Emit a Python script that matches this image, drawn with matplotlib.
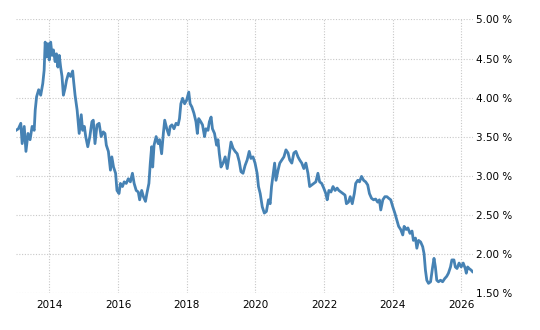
import matplotlib
matplotlib.use('Agg')
import matplotlib.pyplot as plt
from matplotlib.ticker import FuncFormatter

# decimal year / yield (%)
YEARS = [
    2013.03, 2013.10, 2013.17, 2013.21, 2013.27, 2013.32, 2013.38, 2013.44, 2013.50, 2013.56,
    2013.59, 2013.63, 2013.69, 2013.75, 2013.81, 2013.85, 2013.88, 2013.92, 2013.96, 2014.00,
    2014.04, 2014.08, 2014.12, 2014.17, 2014.21, 2014.25, 2014.29, 2014.33, 2014.37, 2014.41,
    2014.46, 2014.50, 2014.56, 2014.62, 2014.68, 2014.71, 2014.75, 2014.81, 2014.87, 2014.93,
    2014.97, 2015.02, 2015.06, 2015.12, 2015.18, 2015.24, 2015.28, 2015.33, 2015.39, 2015.45,
    2015.51, 2015.57, 2015.62, 2015.66, 2015.72, 2015.78, 2015.82, 2015.87, 2015.93, 2015.97,
    2016.03, 2016.07, 2016.13, 2016.18, 2016.24, 2016.30, 2016.36, 2016.42, 2016.47, 2016.53,
    2016.59, 2016.63, 2016.69, 2016.74, 2016.80, 2016.84, 2016.90, 2016.94, 2016.98, 2017.01,
    2017.05, 2017.11, 2017.17, 2017.21, 2017.27, 2017.32, 2017.36, 2017.42, 2017.48, 2017.52,
    2017.57, 2017.63, 2017.69, 2017.75, 2017.79, 2017.83, 2017.88, 2017.94, 2018.00, 2018.06,
    2018.10, 2018.15, 2018.21, 2018.27, 2018.31, 2018.35, 2018.41, 2018.46, 2018.52, 2018.56,
    2018.62, 2018.66, 2018.71, 2018.75, 2018.81, 2018.87, 2018.91, 2018.95, 2019.00, 2019.06,
    2019.12, 2019.18, 2019.24, 2019.29, 2019.35, 2019.41, 2019.47, 2019.53, 2019.58, 2019.64,
    2019.70, 2019.76, 2019.82, 2019.87, 2019.93, 2019.99, 2020.05, 2020.09, 2020.14, 2020.20,
    2020.26, 2020.32, 2020.38, 2020.43, 2020.47, 2020.52, 2020.56, 2020.60, 2020.66, 2020.71,
    2020.77, 2020.83, 2020.89, 2020.95, 2021.00, 2021.06, 2021.12, 2021.18, 2021.24, 2021.29,
    2021.35, 2021.41, 2021.47, 2021.53, 2021.58, 2021.64, 2021.70, 2021.76, 2021.82, 2021.87,
    2021.93, 2021.99, 2022.05, 2022.09, 2022.14, 2022.20, 2022.26, 2022.32, 2022.38, 2022.43,
    2022.49, 2022.55, 2022.61, 2022.65, 2022.71, 2022.76, 2022.82, 2022.88, 2022.92, 2022.98,
    2023.03, 2023.09, 2023.15, 2023.21, 2023.27, 2023.32, 2023.38, 2023.44, 2023.50, 2023.56,
    2023.61, 2023.65, 2023.71, 2023.77, 2023.83, 2023.88, 2023.94, 2024.00, 2024.06, 2024.12,
    2024.17, 2024.23, 2024.29, 2024.33, 2024.39, 2024.44, 2024.50, 2024.56, 2024.60, 2024.66,
    2024.70, 2024.75, 2024.81, 2024.87, 2024.91, 2024.95, 2024.99, 2025.04, 2025.10, 2025.16,
    2025.20, 2025.24, 2025.28, 2025.33, 2025.39, 2025.45, 2025.51, 2025.57, 2025.62, 2025.68,
    2025.72, 2025.78, 2025.82, 2025.87, 2025.93, 2025.99, 2026.05, 2026.11, 2026.14, 2026.18,
    2026.22, 2026.28, 2026.32,
]
YIELDS = [
    3.58, 3.60, 3.67, 3.41, 3.63, 3.31, 3.54, 3.46, 3.63, 3.58,
    3.84, 4.01, 4.10, 4.03, 4.18, 4.35, 4.71, 4.52, 4.69, 4.48,
    4.71, 4.54, 4.61, 4.46, 4.56, 4.39, 4.54, 4.39, 4.27, 4.03,
    4.12, 4.22, 4.31, 4.27, 4.34, 4.20, 4.03, 3.84, 3.54, 3.78,
    3.58, 3.63, 3.50, 3.37, 3.50, 3.69, 3.71, 3.41, 3.65, 3.67,
    3.50, 3.56, 3.54, 3.39, 3.31, 3.07, 3.24, 3.11, 3.03, 2.81,
    2.77, 2.90, 2.86, 2.92, 2.90, 2.96, 2.92, 3.03, 2.90, 2.81,
    2.79, 2.69, 2.81, 2.73, 2.67, 2.77, 2.90, 3.16, 3.37, 3.11,
    3.39, 3.50, 3.41, 3.46, 3.28, 3.54, 3.71, 3.60, 3.52, 3.63,
    3.65, 3.60, 3.67, 3.65, 3.73, 3.92, 3.99, 3.92, 3.97, 4.07,
    3.92, 3.88, 3.80, 3.69, 3.54, 3.73, 3.69, 3.65, 3.50, 3.60,
    3.58, 3.69, 3.75, 3.60, 3.54, 3.39, 3.46, 3.28, 3.11, 3.16,
    3.24, 3.09, 3.28, 3.43, 3.35, 3.31, 3.28, 3.18, 3.05, 3.03,
    3.13, 3.20, 3.31, 3.22, 3.24, 3.16, 3.03, 2.86, 2.77, 2.60,
    2.52, 2.54, 2.69, 2.64, 2.86, 3.03, 3.16, 2.94, 3.07, 3.16,
    3.20, 3.24, 3.33, 3.29, 3.20, 3.16, 3.29, 3.31, 3.24, 3.20,
    3.16, 3.09, 3.16, 3.03, 2.86, 2.88, 2.90, 2.92, 3.03, 2.92,
    2.90, 2.84, 2.77, 2.69, 2.81, 2.79, 2.86, 2.81, 2.84, 2.81,
    2.79, 2.77, 2.75, 2.64, 2.66, 2.73, 2.64, 2.77, 2.90, 2.94,
    2.92, 2.99, 2.94, 2.92, 2.88, 2.77, 2.71, 2.69, 2.70, 2.66,
    2.69, 2.56, 2.69, 2.73, 2.73, 2.71, 2.69, 2.60, 2.52, 2.43,
    2.35, 2.31, 2.24, 2.35, 2.31, 2.33, 2.26, 2.29, 2.17, 2.20,
    2.07, 2.17, 2.15, 2.09, 2.00, 1.79, 1.66, 1.62, 1.64, 1.83,
    1.94, 1.83, 1.66, 1.64, 1.66, 1.64, 1.68, 1.71, 1.75, 1.83,
    1.92, 1.92, 1.83, 1.81, 1.88, 1.83, 1.88, 1.81, 1.75, 1.83,
    1.81, 1.79, 1.77,
]
X_TICKS = [2014, 2016, 2018, 2020, 2022, 2024, 2026]
Y_TICKS = [1.5, 2.0, 2.5, 3.0, 3.5, 4.0, 4.5, 5.0]

LINE = '#4682B4'
GRID = '#c8c8c8'

plt.rcParams['font.family'] = ['DejaVu Sans']

fig = plt.figure(figsize=(5.4, 3.3), dpi=100, facecolor='white')
ax = fig.add_axes([0.0296, 0.113, 0.846, 0.828])

ax.plot(YEARS, YIELDS, color=LINE, lw=2.0, solid_joinstyle='round')

ax.set_xlim(2013.03, 2026.33)
ax.set_ylim(1.5, 5.0)
ax.set_xticks(X_TICKS)
ax.set_xticklabels([str(y) for y in X_TICKS])
ax.set_yticks(Y_TICKS)
ax.yaxis.set_major_formatter(FuncFormatter(lambda v, _: f'{v:.2f} %'))
ax.yaxis.tick_right()

for s in ax.spines.values():
    s.set_visible(False)
ax.grid(True, color=GRID, linestyle=(0, (1, 1.5)), lw=0.8)
ax.tick_params(axis='both', length=0, labelsize=7.5, colors='black')
ax.tick_params(axis='y', pad=2)
ax.tick_params(axis='x', pad=5)

fig.savefig('out.png', dpi=100, facecolor='white')
